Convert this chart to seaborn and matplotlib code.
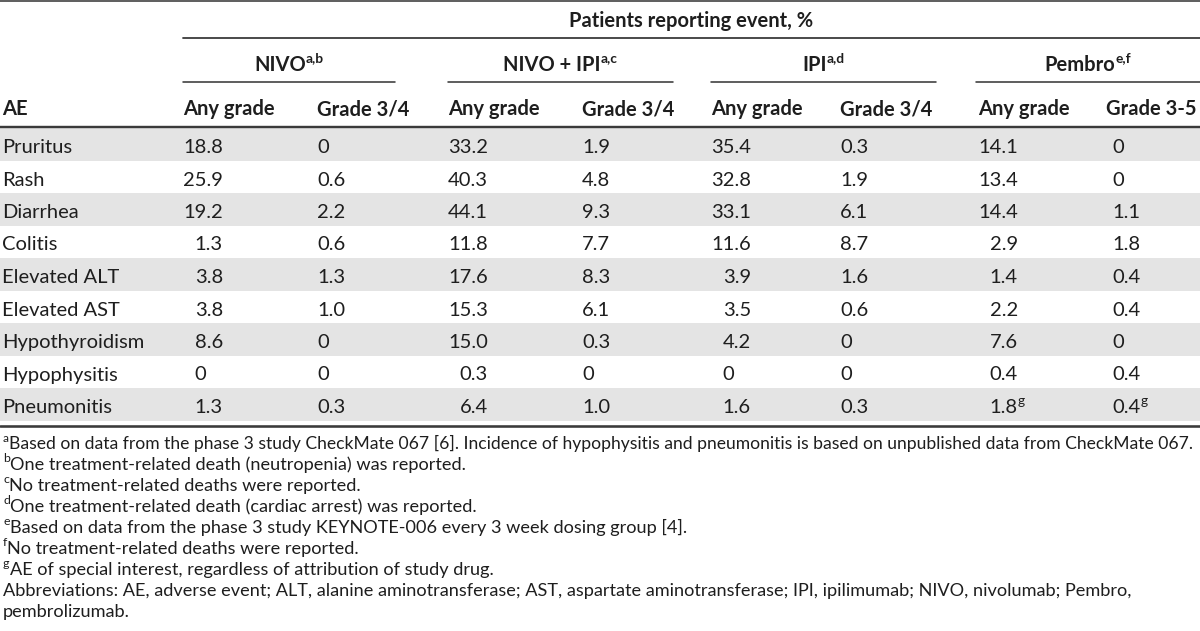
import matplotlib
matplotlib.use("Agg")
import matplotlib.pyplot as plt
import seaborn as sns

# ---------------------------------------------------------------
# Table data
# ---------------------------------------------------------------
events = ["Pruritus", "Rash", "Diarrhea", "Colitis", "Elevated ALT",
          "Elevated AST", "Hypothyroidism", "Hypophysitis", "Pneumonitis"]

nivo_any = ["18.8", "25.9", "19.2", "1.3", "3.8", "3.8", "8.6", "0", "1.3"]
nivo_g34 = ["0", "0.6", "2.2", "0.6", "1.3", "1.0", "0", "0", "0.3"]
combo_any = ["33.2", "40.3", "44.1", "11.8", "17.6", "15.3", "15.0", "0.3", "6.4"]
combo_g34 = ["1.9", "4.8", "9.3", "7.7", "8.3", "6.1", "0.3", "0", "1.0"]
ipi_any = ["35.4", "32.8", "33.1", "11.6", "3.9", "3.5", "4.2", "0", "1.6"]
ipi_g34 = ["0.3", "1.9", "6.1", "8.7", "1.6", "0.6", "0", "0", "0.3"]
pembro_any = ["14.1", "13.4", "14.4", "2.9", "1.4", "2.2", "7.6", "0.4", "1.8"]
pembro_g35 = ["0", "0", "1.1", "1.8", "0.4", "0.4", "0", "0.4", "0.4"]
# superscript marks on the Pembro cells (only the last row carries one)
pembro_marks = ["", "", "", "", "", "", "", "", "g"]

groups = ["NIVO", "NIVO + IPI", "IPI", "Pembro"]
group_marks = ["a,b", "a,c", "a,d", "e,f"]
sub_headers = ["Any grade", "Grade 3/4", "Any grade", "Grade 3/4",
               "Any grade", "Grade 3/4", "Any grade", "Grade 3-5"]
span_title = "Patients reporting event, %"

footnotes = [
    ("a", "Based on data from the phase 3 study CheckMate 067 [6]. Incidence of hypophysitis "
          "and pneumonitis is based on unpublished data from CheckMate 067."),
    ("b", "One treatment-related death (neutropenia) was reported."),
    ("c", "No treatment-related deaths were reported."),
    ("d", "One treatment-related death (cardiac arrest) was reported."),
    ("e", "Based on data from the phase 3 study KEYNOTE-006 every 3 week dosing group [4]."),
    ("f", "No treatment-related deaths were reported."),
    ("g", "AE of special interest, regardless of attribution of study drug."),
    ("", "Abbreviations: AE, adverse event; ALT, alanine aminotransferase; AST, aspartate "
         "aminotransferase; IPI, ipilimumab; NIVO, nivolumab; Pembro,"),
    ("", "pembrolizumab."),
]

# ---------------------------------------------------------------
# Layout (pixel space of a 1200x631 canvas)
# ---------------------------------------------------------------
sns.set_theme(style="white")
plt.rcParams["font.family"] = ["Lato", "DejaVu Sans"]

INK = "#1e1e1e"
RULE = "#3a3a3a"
SHADE = "#e4e4e4"

fig = plt.figure(figsize=(12, 6.31), dpi=100)
ax = fig.add_axes([0, 0, 1, 1])
ax.set_xlim(0, 1200)
ax.set_ylim(631, 0)
ax.axis("off")
renderer = fig.canvas.get_renderer()

col_x = [183, 317, 448, 582, 711, 840, 978, 1112]
span_x = [(183, 395), (448, 673), (711, 936), (976, 1200)]
row_top = 128
row_h = 32.5


def width_of(s, size, weight="normal"):
    t = ax.text(0, 0, s, fontsize=size, fontweight=weight)
    w = t.get_window_extent(renderer).width
    t.remove()
    return w


def fit_size(s, target, weight="normal"):
    return 10 * target / width_of(s, 10, weight)


def put(x, y, parts, size, weight="normal", ha="left"):
    # parts: list of (text, is_superscript)
    arts = []
    total = 0
    for s, sup in parts:
        fs = size * 0.68 if sup else size
        dy = -size * 1.389 * 0.42 if sup else 0
        t = ax.text(0, y + dy, s, fontsize=fs, fontweight=weight,
                    va="baseline", ha="left", color=INK)
        w = t.get_window_extent(renderer).width
        arts.append((t, w))
        total += w
    x0 = x - total / 2 if ha == "center" else x
    for t, w in arts:
        t.set_x(x0)
        x0 += w


head_fs = fit_size("Any grade", 92, "bold")
body_fs = fit_size("Hypothyroidism", 143)
foot_fs = fit_size(footnotes[7][1], 1128)
foot_a_fs = min(foot_fs, fit_size(footnotes[0][1], 1182))
digit_w = width_of("0", body_fs)

# row shading
for i in range(len(events)):
    if i % 2 == 0:
        y0 = row_top + i * row_h
        ax.fill_between([0, 1200], y0, y0 + row_h, color=SHADE, lw=0, zorder=0)

# rules
px = 0.72
ax.plot([0, 1200], [1, 1], color=RULE, lw=1.6 * px)
ax.plot([183, 1200], [38, 38], color=RULE, lw=1.8 * px)
for a, b in span_x:
    ax.plot([a, b], [82, 82], color=RULE, lw=1.6 * px)
ax.plot([0, 1200], [127, 127], color=RULE, lw=2.4 * px)
ax.plot([0, 1200], [426, 426], color=RULE, lw=2.6 * px)

# headers
put(691, 27, [(span_title, False)], head_fs, "bold", "center")
for (a, b), g, m in zip(span_x, groups, group_marks):
    put((a + b) / 2, 71, [(g, False), (m, True)], head_fs, "bold", "center")
put(2, 115, [("AE", False)], head_fs, "bold")
for x, s in zip(col_x, sub_headers):
    # keep the last header inside the right edge
    x = min(x, 1197 - width_of(s, head_fs, "bold"))
    put(x, 115, [(s, False)], head_fs, "bold")

# body
columns = [nivo_any, nivo_g34, combo_any, combo_g34, ipi_any, ipi_g34, pembro_any, pembro_g35]
for i, ev in enumerate(events):
    yb = row_top + i * row_h + 25
    put(2, yb, [(ev, False)], body_fs)
    for j, (x, col) in enumerate(zip(col_x, columns)):
        v = col[i]
        # "Any grade" columns pad single-digit values to line up the decimals
        if j % 2 == 0 and float(v) < 10:
            x = x + digit_w
        parts = [(v, False)]
        if j >= 6 and pembro_marks[i]:
            parts.append((pembro_marks[i], True))
        put(x, yb, parts, body_fs)

# footnotes
for k, (mark, text) in enumerate(footnotes):
    yb = 449 + k * 21
    fs = foot_a_fs if k == 0 else foot_fs
    parts = ([(mark, True)] if mark else []) + [(text, False)]
    put(3, yb, parts, fs)

fig.savefig("out.png", dpi=100, facecolor="white")
